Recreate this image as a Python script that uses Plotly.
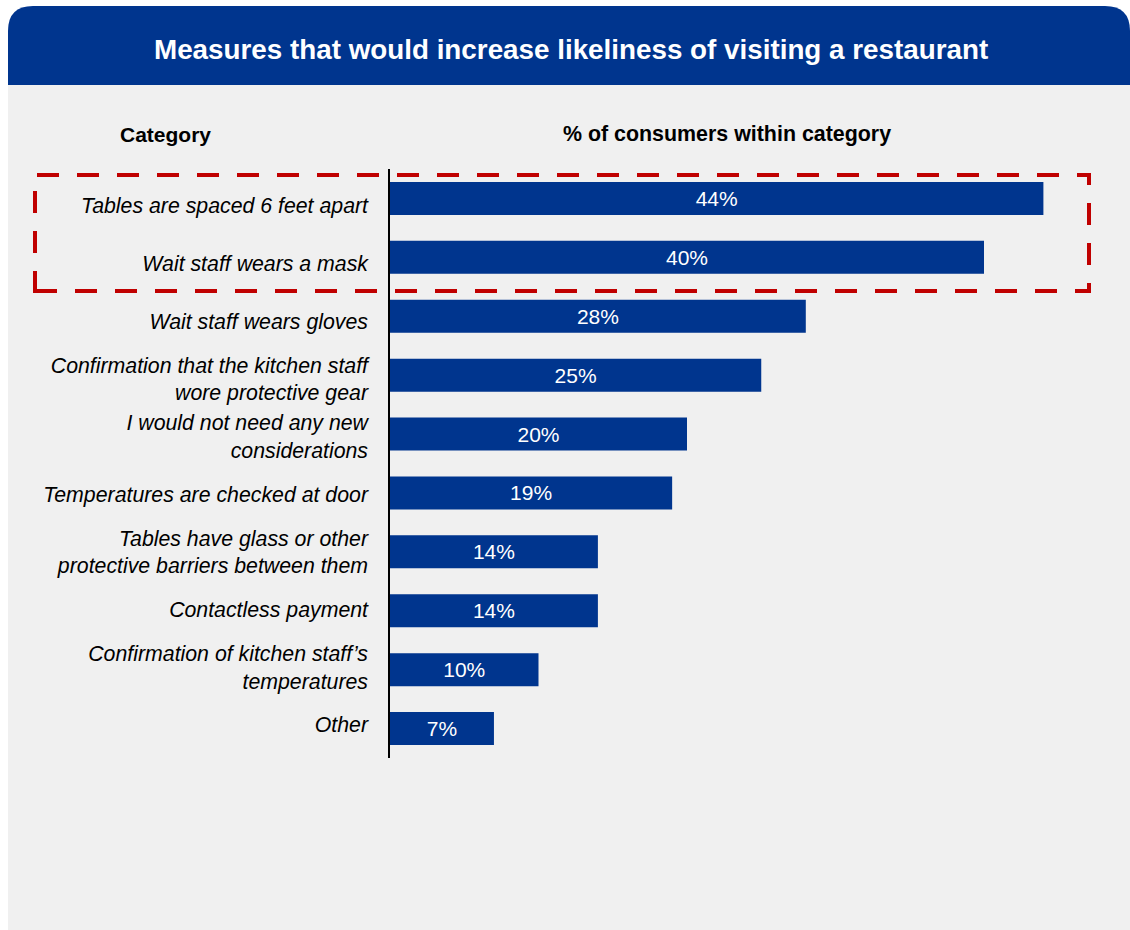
import plotly.graph_objects as go

# Survey results: share of consumers for each measure
categories = [
    "Tables are spaced 6 feet apart",
    "Wait staff wears a mask",
    "Wait staff wears gloves",
    "Confirmation that the kitchen staff<br>wore protective gear",
    "I would not need any new<br>considerations",
    "Temperatures are checked at door",
    "Tables have glass or other<br>protective barriers between them",
    "Contactless payment",
    "Confirmation of kitchen staff’s<br>temperatures",
    "Other",
]
values = [44, 40, 28, 25, 20, 19, 14, 14, 10, 7]
value_labels = [f"{v}%" for v in values]

TITLE = "Measures that would increase likeliness of visiting a restaurant"
COL_LEFT = "Category"
COL_RIGHT = "% of consumers within category"

BLUE = "#00358E"
PANEL = "#F0F0F0"
RED = "#C00000"
FONT = "Arial, Liberation Sans, sans-serif"

W, H = 1130, 930
ML, MR, MT, MB = 390, 0, 169, 172
PW, PH = W - ML - MR, H - MT - MB
PX_PER_UNIT = 14.85

# label column is spaced slightly tighter than the bars
LABEL_TOP, LABEL_BOTTOM = 206, 725
label_step = (LABEL_BOTTOM - LABEL_TOP) / (len(categories) - 1)
label_range = [
    len(categories) - 1 + (MT + PH - LABEL_BOTTOM) / label_step,
    -(LABEL_TOP - MT) / label_step,
]


def px(x):
    return (x - ML) / PW


def py(y):
    return 1 - (y - MT) / PH


fig = go.Figure()
fig.add_trace(
    go.Bar(
        y=categories,
        x=values,
        orientation="h",
        marker=dict(color=BLUE, line=dict(width=0)),
        text=value_labels,
        textposition="inside",
        insidetextanchor="middle",
        textangle=0,
        textfont=dict(color="white", size=21, family=FONT),
        hoverinfo="skip",
    )
)
# invisible carrier for the category label axis
fig.add_trace(
    go.Scatter(
        y=categories, x=values, yaxis="y2", mode="markers",
        marker=dict(opacity=0), hoverinfo="skip",
    )
)

# header band with rounded top corners
r = 25
x0, x1, y0, y1 = 8, 1130, 6, 85
hdr = (
    f"M {px(x0)},{py(y1)} L {px(x0)},{py(y0 + r)} "
    f"Q {px(x0)},{py(y0)} {px(x0 + r)},{py(y0)} "
    f"L {px(x1 - r)},{py(y0)} Q {px(x1)},{py(y0)} {px(x1)},{py(y0 + r)} "
    f"L {px(x1)},{py(y1)} Z"
)

shapes = [
    dict(type="rect", xref="paper", yref="paper",
         x0=px(8), x1=px(1130), y0=py(930), y1=py(85),
         fillcolor=PANEL, line=dict(width=0), layer="below"),
    dict(type="path", xref="paper", yref="paper", path=hdr,
         fillcolor=BLUE, line=dict(width=0), layer="below"),
    dict(type="rect", xref="paper", yref="paper",
         x0=px(35), x1=px(1089), y0=py(291), y1=py(175),
         line=dict(color=RED, width=4, dash="22px,18px"),
         fillcolor="rgba(0,0,0,0)", layer="above"),
]

annotations = [
    dict(text=f"<b>{TITLE}</b>", xref="paper", yref="paper",
         x=px(571), y=py(50), xanchor="center", yanchor="middle",
         showarrow=False, font=dict(size=27.8, color="white", family=FONT)),
    dict(text=f"<b>{COL_LEFT}</b>", xref="paper", yref="paper",
         x=px(165), y=py(134), xanchor="center", yanchor="middle",
         showarrow=False, font=dict(size=21, color="black", family=FONT)),
    dict(text=f"<b>{COL_RIGHT}</b>", xref="paper", yref="paper",
         x=px(727), y=py(134), xanchor="center", yanchor="middle",
         showarrow=False, font=dict(size=21.4, color="black", family=FONT)),
]

fig.update_layout(
    width=W, height=H,
    margin=dict(l=ML, r=MR, t=MT, b=MB, pad=0),
    paper_bgcolor="white",
    plot_bgcolor="rgba(0,0,0,0)",
    showlegend=False,
    bargap=0.44,
    shapes=shapes,
    annotations=annotations,
    xaxis=dict(range=[0, PW / PX_PER_UNIT], visible=False, fixedrange=True),
    yaxis=dict(
        type="category",
        categoryorder="array", categoryarray=categories,
        autorange="reversed",
        showline=True, linecolor="black", linewidth=1.5,
        showgrid=False, zeroline=False, ticks="",
        showticklabels=False,
        automargin=False, fixedrange=True,
    ),
    yaxis2=dict(
        type="category", overlaying="y", side="left",
        categoryorder="array", categoryarray=categories,
        range=label_range,
        showline=False, showgrid=False, zeroline=False, ticks="",
        ticklabelstandoff=21,
        tickfont=dict(size=21.3, color="black", family=FONT, style="italic"),
        automargin=False, fixedrange=True,
    ),
)

fig.write_html("out.html")
